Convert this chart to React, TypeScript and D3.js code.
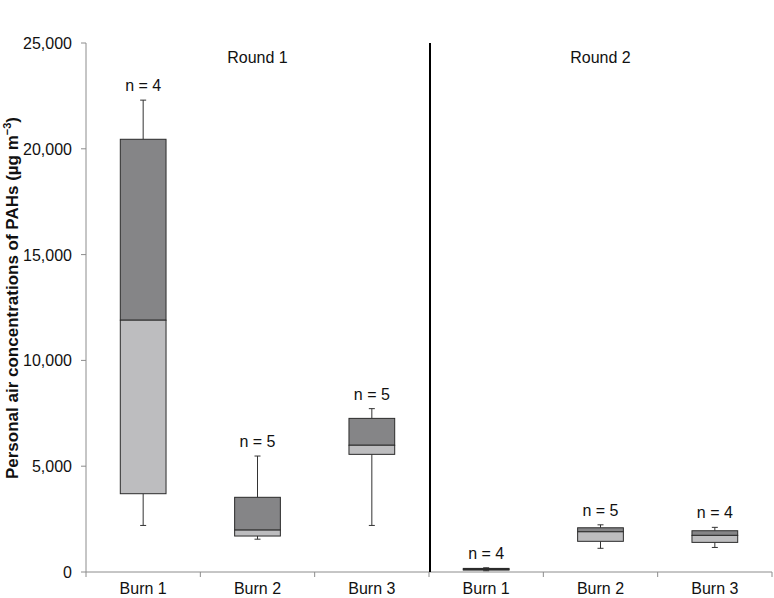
import { useEffect, useRef } from "react";
import * as d3 from "d3";

// rounds and burns
const rounds = ["Round 1", "Round 2"];
const burns = ["Burn 1", "Burn 2", "Burn 3"];
const groups = ["R1 Burn 1", "R1 Burn 2", "R1 Burn 3", "R2 Burn 1", "R2 Burn 2", "R2 Burn 3"];

// box stats per group (µg m-3)
const whiskerLow = [2200, 1550, 2200, 60, 1120, 1160];
const q1 = [3700, 1700, 5560, 90, 1450, 1400];
const median = [11900, 1980, 5990, 130, 1900, 1730];
const q3 = [20450, 3530, 7260, 170, 2090, 1950];
const whiskerHigh = [22300, 5480, 7720, 200, 2230, 2110];
const nCounts = [4, 5, 5, 4, 5, 4];

const yTicks = [0, 5000, 10000, 15000, 20000, 25000];

const W = 774, H = 598;
const m = { top: 43, right: 2, bottom: 26, left: 86 };

const BoxChart = () => {
  const svgRef = useRef<SVGSVGElement>(null);

  useEffect(() => {
    if (!svgRef.current) return;
    const svg = d3.select(svgRef.current);
    svg.selectAll("*").remove();

    const font = "Liberation Sans, Arial, sans-serif";
    const x = d3.scaleBand().domain(groups).range([m.left, W - m.right]);
    const y = d3.scaleLinear().domain([0, 25000]).range([H - m.bottom, m.top]);
    const axisColor = "#8c8c8c";
    const fmt = d3.format(",");

    // y axis
    svg.append("line")
      .attr("x1", m.left).attr("x2", m.left)
      .attr("y1", y(25000)).attr("y2", y(0))
      .attr("stroke", axisColor);
    yTicks.forEach(t => {
      svg.append("line")
        .attr("x1", m.left - 5).attr("x2", m.left)
        .attr("y1", y(t)).attr("y2", y(t))
        .attr("stroke", axisColor);
      svg.append("text")
        .attr("x", m.left - 14).attr("y", y(t) + 6)
        .attr("text-anchor", "end")
        .attr("font-family", font).attr("font-size", "16px")
        .attr("fill", "#111")
        .text(fmt(t));
    });

    // x axis
    svg.append("line")
      .attr("x1", m.left).attr("x2", W - m.right)
      .attr("y1", y(0)).attr("y2", y(0))
      .attr("stroke", axisColor);
    const edges = groups.map(g => x(g)!).concat([x(groups[groups.length - 1])! + x.bandwidth()]);
    edges.forEach(e => {
      svg.append("line")
        .attr("x1", e).attr("x2", e)
        .attr("y1", y(0)).attr("y2", y(0) + 5)
        .attr("stroke", axisColor);
    });
    groups.forEach((g, i) => {
      svg.append("text")
        .attr("x", x(g)! + x.bandwidth() / 2).attr("y", H - 4)
        .attr("text-anchor", "middle")
        .attr("font-family", font).attr("font-size", "16px")
        .attr("fill", "#111")
        .text(burns[i % 3]);
    });

    // round divider + titles
    const divX = x(groups[3])!;
    svg.append("line")
      .attr("x1", divX + 1).attr("x2", divX + 1)
      .attr("y1", y(25000)).attr("y2", y(0))
      .attr("stroke", "#000").attr("stroke-width", 2);
    rounds.forEach((r, i) => {
      const x0 = x(groups[i * 3])!;
      const x1 = x(groups[i * 3 + 2])! + x.bandwidth();
      svg.append("text")
        .attr("x", (x0 + x1) / 2).attr("y", 63)
        .attr("text-anchor", "middle")
        .attr("font-family", font).attr("font-size", "16px")
        .attr("fill", "#111")
        .text(r);
    });

    // boxes
    const bw = x.bandwidth() * 0.4;
    const cap = 6;
    groups.forEach((g, i) => {
      const cx = x(g)! + x.bandwidth() / 2;
      const gEl = svg.append("g");
      // whiskers
      gEl.append("line")
        .attr("x1", cx).attr("x2", cx)
        .attr("y1", y(whiskerHigh[i])).attr("y2", y(q3[i]))
        .attr("stroke", "#333");
      gEl.append("line")
        .attr("x1", cx).attr("x2", cx)
        .attr("y1", y(q1[i])).attr("y2", y(whiskerLow[i]))
        .attr("stroke", "#333");
      [whiskerHigh[i], whiskerLow[i]].forEach(v => {
        gEl.append("line")
          .attr("x1", cx - cap / 2).attr("x2", cx + cap / 2)
          .attr("y1", y(v)).attr("y2", y(v))
          .attr("stroke", "#333");
      });
      // upper (median..q3) dark, lower (q1..median) light
      gEl.append("rect")
        .attr("x", cx - bw / 2).attr("width", bw)
        .attr("y", y(q3[i])).attr("height", y(median[i]) - y(q3[i]))
        .attr("fill", "#858587").attr("stroke", "#2b2b2b");
      gEl.append("rect")
        .attr("x", cx - bw / 2).attr("width", bw)
        .attr("y", y(median[i])).attr("height", y(q1[i]) - y(median[i]))
        .attr("fill", "#bdbdbf").attr("stroke", "#2b2b2b");
      // n label
      svg.append("text")
        .attr("x", cx).attr("y", y(whiskerHigh[i]) - 9)
        .attr("text-anchor", "middle")
        .attr("font-family", font).attr("font-size", "16px")
        .attr("fill", "#111")
        .text(`n = ${nCounts[i]}`);
    });

    // y title
    const title = svg.append("text")
      .attr("transform", `translate(18,298) rotate(-90)`)
      .attr("text-anchor", "middle")
      .attr("font-family", font).attr("font-size", "17px").attr("font-weight", "bold")
      .attr("fill", "#111");
    title.append("tspan").text("Personal air concentrations of PAHs (µg m");
    title.append("tspan").attr("dy", -7).attr("font-size", "11px").text("−3");
    title.append("tspan").attr("dy", 7).text(")");
  }, []);

  return (
    <svg
      ref={svgRef}
      width={W}
      height={H}
      style={{ position: "absolute", left: 0, top: 0, background: "#fff" }}
    />
  );
};

export default function App() {
  return <BoxChart />;
}
